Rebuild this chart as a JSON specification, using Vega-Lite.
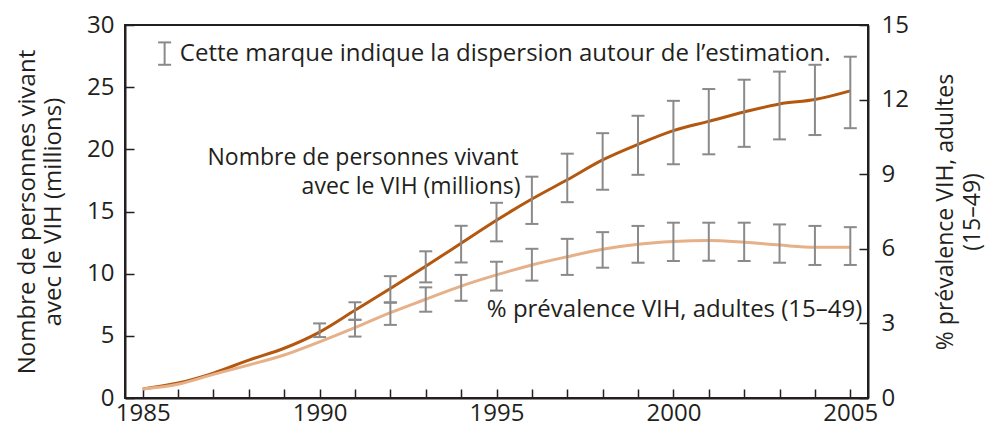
{
  "$schema": "https://vega.github.io/schema/vega-lite/v6.json",
  "width": 743,
  "height": 373,
  "autosize": {"type": "none"},
  "padding": {"left": 125, "top": 25, "right": 118, "bottom": 32},
  "background": "white",
  "config": {
    "font": "Open Sans",
    "view": {"stroke": "#231f20", "strokeWidth": 2}
  },
  "data": {
    "values": [
      {"year": 1985, "people": 0.72, "plo": null, "phi": null, "prev": 0.36, "vlo": null, "vhi": null},
      {"year": 1986, "people": 1.2, "plo": null, "phi": null, "prev": 0.55, "vlo": null, "vhi": null},
      {"year": 1987, "people": 2.0, "plo": null, "phi": null, "prev": 0.95, "vlo": null, "vhi": null},
      {"year": 1988, "people": 3.05, "plo": null, "phi": null, "prev": 1.33, "vlo": null, "vhi": null},
      {"year": 1989, "people": 4.0, "plo": null, "phi": null, "prev": 1.73, "vlo": null, "vhi": null},
      {"year": 1990, "people": 5.3, "plo": 4.9, "phi": 6.0, "prev": 2.26, "vlo": null, "vhi": null},
      {"year": 1991, "people": 7.05, "plo": 6.3, "phi": 7.7, "prev": 2.83, "vlo": 2.47, "vhi": 3.14},
      {"year": 1992, "people": 8.8, "plo": 7.7, "phi": 9.8, "prev": 3.43, "vlo": 2.94, "vhi": 3.83},
      {"year": 1993, "people": 10.6, "plo": 9.3, "phi": 11.8, "prev": 3.97, "vlo": 3.47, "vhi": 4.45},
      {"year": 1994, "people": 12.45, "plo": 10.9, "phi": 13.85, "prev": 4.5, "vlo": 3.91, "vhi": 4.95},
      {"year": 1995, "people": 14.3, "plo": 12.6, "phi": 15.7, "prev": 4.95, "vlo": 4.32, "vhi": 5.48},
      {"year": 1996, "people": 16.0, "plo": 14.0, "phi": 17.8, "prev": 5.35, "vlo": 4.72, "vhi": 6.0},
      {"year": 1997, "people": 17.55, "plo": 15.75, "phi": 19.65, "prev": 5.68, "vlo": 4.95, "vhi": 6.4},
      {"year": 1998, "people": 19.15, "plo": 16.75, "phi": 21.3, "prev": 5.98, "vlo": 5.24, "vhi": 6.67},
      {"year": 1999, "people": 20.4, "plo": 17.95, "phi": 22.7, "prev": 6.18, "vlo": 5.44, "vhi": 6.92},
      {"year": 2000, "people": 21.5, "plo": 18.8, "phi": 23.9, "prev": 6.29, "vlo": 5.51, "vhi": 7.05},
      {"year": 2001, "people": 22.25, "plo": 19.6, "phi": 24.85, "prev": 6.33, "vlo": 5.52, "vhi": 7.05},
      {"year": 2002, "people": 23.0, "plo": 20.2, "phi": 25.6, "prev": 6.26, "vlo": 5.51, "vhi": 7.05},
      {"year": 2003, "people": 23.65, "plo": 20.8, "phi": 26.25, "prev": 6.15, "vlo": 5.44, "vhi": 6.98},
      {"year": 2004, "people": 24.0, "plo": 21.15, "phi": 26.8, "prev": 6.06, "vlo": 5.35, "vhi": 6.92},
      {"year": 2005, "people": 24.7, "plo": 21.7, "phi": 27.45, "prev": 6.06, "vlo": 5.35, "vhi": 6.87}
    ]
  },
  "encoding": {
    "x": {
      "field": "year",
      "type": "quantitative",
      "scale": {"domain": [1984.5, 2005.5], "nice": false, "zero": false},
      "axis": {
        "title": null,
        "values": [1985, 1986, 1987, 1988, 1989, 1990, 1991, 1992, 1993, 1994, 1995, 1996, 1997, 1998, 1999, 2000, 2001, 2002, 2003, 2004, 2005],
        "labelExpr": "datum.value % 5 === 0 ? '' + datum.value : ''",
        "labelPadding": 12,
        "labelFlush": false,
        "labelOverlap": false,
        "domainColor": "#231f20",
        "domainWidth": 2,
        "tickColor": "#231f20",
        "tickWidth": 1.5,
        "tickSize": -9,
        "labelFontSize": 24,
        "labelColor": "#231f20",
        "grid": false
      }
    }
  },
  "layer": [
    {
      "mark": {"type": "line", "color": "#b4570f", "strokeWidth": 3, "interpolate": "monotone"},
      "encoding": {
        "y": {
          "field": "people",
          "type": "quantitative",
          "scale": {"domain": [0, 30], "nice": false},
          "axis": {
            "orient": "left",
            "values": [0, 5, 10, 15, 20, 25, 30],
            "title": ["Nombre de personnes vivant", "avec le VIH (millions)"],
            "titleFontSize": 24,
            "titleFontWeight": "normal",
            "titleColor": "#231f20",
            "labelPadding": 20,
            "titlePadding": 21,
            "domainColor": "#231f20",
            "domainWidth": 2,
            "tickColor": "#231f20",
            "tickWidth": 1.5,
            "tickSize": -9,
            "labelFontSize": 24,
            "labelColor": "#231f20",
            "grid": false
          }
        }
      }
    },
    {
      "transform": [{"filter": "datum.plo != null"}],
      "mark": {"type": "rule", "color": "#8a8a8a", "strokeWidth": 2},
      "encoding": {
        "y": {"field": "plo", "type": "quantitative", "scale": {"domain": [0, 30], "nice": false}, "axis": null},
        "y2": {"field": "phi"}
      }
    },
    {
      "transform": [{"filter": "datum.plo != null"}],
      "mark": {"type": "tick", "orient": "horizontal", "color": "#8a8a8a", "size": 13, "thickness": 2, "opacity": 1},
      "encoding": {
        "y": {"field": "plo", "type": "quantitative", "scale": {"domain": [0, 30], "nice": false}, "axis": null}
      }
    },
    {
      "transform": [{"filter": "datum.plo != null"}],
      "mark": {"type": "tick", "orient": "horizontal", "color": "#8a8a8a", "size": 13, "thickness": 2, "opacity": 1},
      "encoding": {
        "y": {"field": "phi", "type": "quantitative", "scale": {"domain": [0, 30], "nice": false}, "axis": null}
      }
    },
    {
      "transform": [{"filter": "datum.year === 1985"}],
      "mark": {"type": "rule", "color": "#8a8a8a", "strokeWidth": 2},
      "encoding": {
        "x": {"datum": 1985.62, "type": "quantitative"},
        "y": {"datum": 26.8, "type": "quantitative", "scale": {"domain": [0, 30], "nice": false}, "axis": null},
        "y2": {"datum": 28.6}
      }
    },
    {
      "transform": [{"filter": "datum.year === 1985"}],
      "mark": {"type": "tick", "orient": "horizontal", "color": "#8a8a8a", "size": 13, "thickness": 2, "opacity": 1},
      "encoding": {
        "x": {"datum": 1985.62, "type": "quantitative"},
        "y": {"datum": 26.8, "type": "quantitative", "scale": {"domain": [0, 30], "nice": false}, "axis": null}
      }
    },
    {
      "transform": [{"filter": "datum.year === 1985"}],
      "mark": {"type": "tick", "orient": "horizontal", "color": "#8a8a8a", "size": 13, "thickness": 2, "opacity": 1},
      "encoding": {
        "x": {"datum": 1985.62, "type": "quantitative"},
        "y": {"datum": 28.6, "type": "quantitative", "scale": {"domain": [0, 30], "nice": false}, "axis": null}
      }
    },
    {
      "transform": [{"filter": "datum.year === 1985"}],
      "mark": {"type": "text", "align": "left", "baseline": "middle", "fontSize": 24, "color": "#231f20", "text": "Cette marque indique la dispersion autour de l’estimation."},
      "encoding": {
        "x": {"datum": 1986.05, "type": "quantitative"},
        "y": {"datum": 27.65, "type": "quantitative", "scale": {"domain": [0, 30], "nice": false}, "axis": null}
      }
    },
    {
      "transform": [{"filter": "datum.year === 1985"}],
      "mark": {"type": "text", "align": "right", "baseline": "middle", "fontSize": 23, "color": "#231f20", "text": "Nombre de personnes vivant"},
      "encoding": {
        "x": {"datum": 1995.62, "type": "quantitative"},
        "y": {"datum": 19.3, "type": "quantitative", "scale": {"domain": [0, 30], "nice": false}, "axis": null}
      }
    },
    {
      "transform": [{"filter": "datum.year === 1985"}],
      "mark": {"type": "text", "align": "right", "baseline": "middle", "fontSize": 23, "color": "#231f20", "text": "avec le VIH (millions)"},
      "encoding": {
        "x": {"datum": 1995.68, "type": "quantitative"},
        "y": {"datum": 16.95, "type": "quantitative", "scale": {"domain": [0, 30], "nice": false}, "axis": null}
      }
    },
    {
      "mark": {"type": "line", "color": "#e6b088", "strokeWidth": 3, "interpolate": "monotone"},
      "encoding": {
        "y": {
          "field": "prev",
          "type": "quantitative",
          "scale": {"domain": [0, 15], "nice": false},
          "axis": {
            "orient": "right",
            "values": [0, 3, 6, 9, 12, 15],
            "title": ["% prévalence VIH, adultes", "(15–49)"],
            "titleAngle": 270,
            "titleFontSize": 23,
            "titleLineHeight": 27,
            "titleFontWeight": "normal",
            "titleColor": "#231f20",
            "labelPadding": 22,
            "titlePadding": 22,
            "domainColor": "#231f20",
            "domainWidth": 2,
            "tickColor": "#231f20",
            "tickWidth": 1.5,
            "tickSize": -9,
            "labelFontSize": 24,
            "labelColor": "#231f20",
            "grid": false
          }
        }
      }
    },
    {
      "transform": [{"filter": "datum.vlo != null"}],
      "mark": {"type": "rule", "color": "#8a8a8a", "strokeWidth": 2},
      "encoding": {
        "y": {"field": "vlo", "type": "quantitative", "scale": {"domain": [0, 15], "nice": false}, "axis": null},
        "y2": {"field": "vhi"}
      }
    },
    {
      "transform": [{"filter": "datum.vlo != null"}],
      "mark": {"type": "tick", "orient": "horizontal", "color": "#8a8a8a", "size": 13, "thickness": 2, "opacity": 1},
      "encoding": {
        "y": {"field": "vlo", "type": "quantitative", "scale": {"domain": [0, 15], "nice": false}, "axis": null}
      }
    },
    {
      "transform": [{"filter": "datum.vlo != null"}],
      "mark": {"type": "tick", "orient": "horizontal", "color": "#8a8a8a", "size": 13, "thickness": 2, "opacity": 1},
      "encoding": {
        "y": {"field": "vhi", "type": "quantitative", "scale": {"domain": [0, 15], "nice": false}, "axis": null}
      }
    },
    {
      "transform": [{"filter": "datum.year === 1985"}],
      "mark": {"type": "text", "align": "right", "baseline": "middle", "fontSize": 24, "color": "#231f20", "text": "% prévalence VIH, adultes (15–49)"},
      "encoding": {
        "x": {"datum": 2005.34, "type": "quantitative"},
        "y": {"datum": 3.54, "type": "quantitative", "scale": {"domain": [0, 15], "nice": false}, "axis": null}
      }
    }
  ],
  "resolve": {"scale": {"y": "independent"}}
}
